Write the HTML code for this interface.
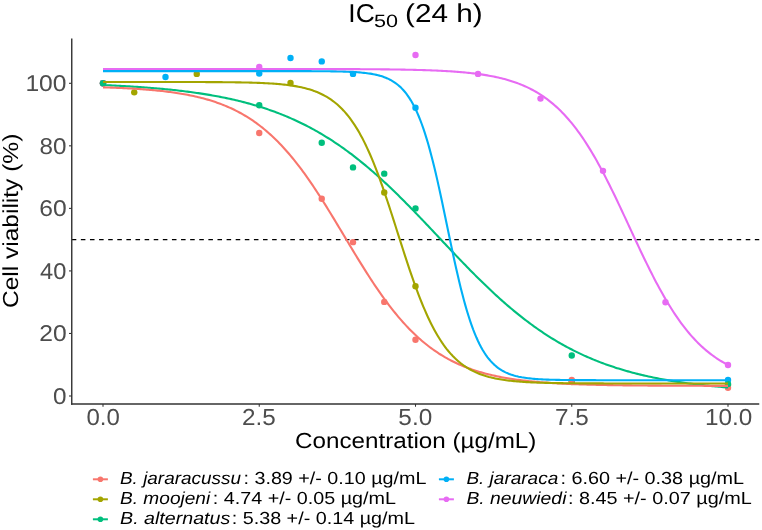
<!DOCTYPE html>
<html><head><meta charset="utf-8"><style>
html,body{margin:0;padding:0;background:#fff;}
body{width:762px;height:530px;overflow:hidden;}
svg{display:block;will-change:transform;}
text{font-family:"Liberation Sans",sans-serif;text-rendering:geometricPrecision;}
</style></head><body>
<svg width="762" height="530" viewBox="0 0 762 530">
<rect width="762" height="530" fill="#fff"/>

<line id="dash" x1="71.75" y1="239.65" x2="759.25" y2="239.65" stroke="#000" stroke-width="1.14" stroke-dasharray="4.55 4.558"/>
<g>
<circle cx="103.00" cy="83.30" r="3.2" fill="#00B0F6"/>
<circle cx="165.50" cy="77.05" r="3.2" fill="#00B0F6"/>
<circle cx="259.25" cy="73.61" r="3.2" fill="#00B0F6"/>
<circle cx="290.50" cy="57.97" r="3.2" fill="#00B0F6"/>
<circle cx="321.75" cy="61.41" r="3.2" fill="#00B0F6"/>
<circle cx="353.00" cy="73.92" r="3.2" fill="#00B0F6"/>
<circle cx="415.50" cy="107.69" r="3.2" fill="#00B0F6"/>
<circle cx="571.75" cy="380.99" r="3.2" fill="#00B0F6"/>
<circle cx="728.00" cy="380.05" r="3.2" fill="#00B0F6"/>
<circle cx="103.00" cy="83.30" r="3.2" fill="#A3A500"/>
<circle cx="134.25" cy="92.37" r="3.2" fill="#A3A500"/>
<circle cx="196.75" cy="73.92" r="3.2" fill="#A3A500"/>
<circle cx="290.50" cy="82.99" r="3.2" fill="#A3A500"/>
<circle cx="384.25" cy="192.43" r="3.2" fill="#A3A500"/>
<circle cx="415.50" cy="286.24" r="3.2" fill="#A3A500"/>
<circle cx="571.75" cy="381.93" r="3.2" fill="#A3A500"/>
<circle cx="728.00" cy="385.06" r="3.2" fill="#A3A500"/>
<circle cx="103.00" cy="83.30" r="3.2" fill="#F8766D"/>
<circle cx="259.25" cy="133.02" r="3.2" fill="#F8766D"/>
<circle cx="321.75" cy="198.69" r="3.2" fill="#F8766D"/>
<circle cx="353.00" cy="242.15" r="3.2" fill="#F8766D"/>
<circle cx="384.25" cy="301.88" r="3.2" fill="#F8766D"/>
<circle cx="415.50" cy="339.71" r="3.2" fill="#F8766D"/>
<circle cx="571.75" cy="380.05" r="3.2" fill="#F8766D"/>
<circle cx="728.00" cy="387.87" r="3.2" fill="#F8766D"/>
<circle cx="103.00" cy="83.30" r="3.2" fill="#E76BF3"/>
<circle cx="259.25" cy="67.04" r="3.2" fill="#E76BF3"/>
<circle cx="415.50" cy="55.00" r="3.2" fill="#E76BF3"/>
<circle cx="478.00" cy="73.92" r="3.2" fill="#E76BF3"/>
<circle cx="540.50" cy="98.62" r="3.2" fill="#E76BF3"/>
<circle cx="603.00" cy="170.86" r="3.2" fill="#E76BF3"/>
<circle cx="665.50" cy="302.19" r="3.2" fill="#E76BF3"/>
<circle cx="728.00" cy="365.04" r="3.2" fill="#E76BF3"/>
<circle cx="103.00" cy="83.30" r="3.2" fill="#00BF7D"/>
<circle cx="259.25" cy="105.19" r="3.2" fill="#00BF7D"/>
<circle cx="321.75" cy="142.71" r="3.2" fill="#00BF7D"/>
<circle cx="353.00" cy="167.42" r="3.2" fill="#00BF7D"/>
<circle cx="384.25" cy="173.67" r="3.2" fill="#00BF7D"/>
<circle cx="415.50" cy="208.38" r="3.2" fill="#00BF7D"/>
<circle cx="571.75" cy="355.51" r="3.2" fill="#00BF7D"/>
<circle cx="728.00" cy="384.12" r="3.2" fill="#00BF7D"/>
</g>
<g fill="none" stroke-width="2.1" stroke-linejoin="round">
<path d="M103.00,85.05 L104.56,85.11 L106.12,85.18 L107.69,85.25 L109.25,85.32 L110.81,85.40 L112.38,85.47 L113.94,85.55 L115.50,85.62 L117.06,85.70 L118.62,85.78 L120.19,85.87 L121.75,85.95 L123.31,86.04 L124.88,86.13 L126.44,86.22 L128.00,86.31 L129.56,86.40 L131.12,86.50 L132.69,86.59 L134.25,86.69 L135.81,86.80 L137.38,86.90 L138.94,87.00 L140.50,87.11 L142.06,87.22 L143.62,87.34 L145.19,87.45 L146.75,87.57 L148.31,87.69 L149.88,87.81 L151.44,87.94 L153.00,88.06 L154.56,88.19 L156.12,88.33 L157.69,88.46 L159.25,88.60 L160.81,88.74 L162.38,88.89 L163.94,89.03 L165.50,89.18 L167.06,89.34 L168.62,89.49 L170.19,89.65 L171.75,89.81 L173.31,89.98 L174.88,90.15 L176.44,90.32 L178.00,90.50 L179.56,90.68 L181.12,90.86 L182.69,91.05 L184.25,91.24 L185.81,91.44 L187.38,91.64 L188.94,91.84 L190.50,92.05 L192.06,92.26 L193.62,92.47 L195.19,92.69 L196.75,92.92 L198.31,93.14 L199.88,93.38 L201.44,93.62 L203.00,93.86 L204.56,94.11 L206.12,94.36 L207.69,94.62 L209.25,94.88 L210.81,95.15 L212.38,95.42 L213.94,95.70 L215.50,95.98 L217.06,96.27 L218.62,96.57 L220.19,96.87 L221.75,97.17 L223.31,97.49 L224.88,97.80 L226.44,98.13 L228.00,98.46 L229.56,98.80 L231.13,99.14 L232.69,99.49 L234.25,99.85 L235.81,100.21 L237.38,100.58 L238.94,100.96 L240.50,101.35 L242.06,101.74 L243.62,102.14 L245.19,102.54 L246.75,102.96 L248.31,103.38 L249.88,103.81 L251.44,104.25 L253.00,104.70 L254.56,105.15 L256.12,105.61 L257.69,106.08 L259.25,106.56 L260.81,107.05 L262.38,107.55 L263.94,108.06 L265.50,108.57 L267.06,109.10 L268.62,109.63 L270.19,110.17 L271.75,110.72 L273.31,111.29 L274.88,111.86 L276.44,112.44 L278.00,113.03 L279.56,113.64 L281.12,114.25 L282.69,114.87 L284.25,115.50 L285.81,116.15 L287.38,116.80 L288.94,117.47 L290.50,118.15 L292.06,118.84 L293.62,119.53 L295.19,120.25 L296.75,120.97 L298.31,121.70 L299.88,122.45 L301.44,123.20 L303.00,123.97 L304.56,124.76 L306.12,125.55 L307.69,126.36 L309.25,127.17 L310.81,128.01 L312.38,128.85 L313.94,129.70 L315.50,130.57 L317.06,131.45 L318.62,132.35 L320.19,133.26 L321.75,134.18 L323.31,135.11 L324.88,136.06 L326.44,137.02 L328.00,137.99 L329.56,138.98 L331.12,139.98 L332.69,140.99 L334.25,142.02 L335.81,143.06 L337.38,144.11 L338.94,145.18 L340.50,146.26 L342.06,147.36 L343.62,148.47 L345.19,149.59 L346.75,150.73 L348.31,151.87 L349.88,153.04 L351.44,154.21 L353.00,155.40 L354.56,156.61 L356.12,157.82 L357.69,159.06 L359.25,160.30 L360.81,161.56 L362.38,162.83 L363.94,164.11 L365.50,165.40 L367.06,166.71 L368.62,168.04 L370.19,169.37 L371.75,170.72 L373.31,172.08 L374.88,173.45 L376.44,174.83 L378.00,176.23 L379.56,177.63 L381.12,179.05 L382.69,180.48 L384.25,181.92 L385.81,183.38 L387.38,184.84 L388.94,186.31 L390.50,187.80 L392.06,189.29 L393.62,190.80 L395.19,192.31 L396.75,193.84 L398.31,195.37 L399.88,196.91 L401.44,198.46 L403.00,200.02 L404.56,201.59 L406.13,203.16 L407.69,204.74 L409.25,206.33 L410.81,207.93 L412.38,209.53 L413.94,211.14 L415.50,212.75 L417.06,214.37 L418.63,216.00 L420.19,217.63 L421.75,219.26 L423.31,220.90 L424.88,222.54 L426.44,224.19 L428.00,225.84 L429.56,227.49 L431.12,229.14 L432.69,230.80 L434.25,232.45 L435.81,234.11 L437.38,235.77 L438.94,237.43 L440.50,239.09 L442.06,240.75 L443.62,242.41 L445.19,244.07 L446.75,245.72 L448.31,247.38 L449.88,249.03 L451.44,250.68 L453.00,252.32 L454.56,253.97 L456.12,255.61 L457.69,257.24 L459.25,258.87 L460.81,260.50 L462.38,262.12 L463.94,263.74 L465.50,265.35 L467.06,266.95 L468.63,268.55 L470.19,270.14 L471.75,271.72 L473.31,273.30 L474.88,274.87 L476.44,276.43 L478.00,277.98 L479.56,279.53 L481.13,281.06 L482.69,282.59 L484.25,284.10 L485.81,285.61 L487.38,287.11 L488.94,288.60 L490.50,290.07 L492.06,291.54 L493.62,292.99 L495.19,294.44 L496.75,295.87 L498.31,297.29 L499.88,298.70 L501.44,300.10 L503.00,301.49 L504.56,302.87 L506.12,304.23 L507.69,305.58 L509.25,306.92 L510.81,308.24 L512.38,309.55 L513.94,310.85 L515.50,312.14 L517.06,313.41 L518.62,314.67 L520.19,315.92 L521.75,317.15 L523.31,318.38 L524.88,319.58 L526.44,320.78 L528.00,321.96 L529.56,323.12 L531.12,324.28 L532.69,325.42 L534.25,326.54 L535.81,327.65 L537.38,328.75 L538.94,329.84 L540.50,330.91 L542.06,331.97 L543.62,333.01 L545.19,334.04 L546.75,335.06 L548.31,336.06 L549.88,337.05 L551.44,338.03 L553.00,338.99 L554.56,339.95 L556.12,340.88 L557.69,341.81 L559.25,342.72 L560.81,343.62 L562.38,344.50 L563.94,345.37 L565.50,346.23 L567.06,347.08 L568.62,347.91 L570.19,348.74 L571.75,349.54 L573.31,350.34 L574.88,351.13 L576.44,351.90 L578.00,352.66 L579.56,353.41 L581.12,354.15 L582.69,354.87 L584.25,355.59 L585.81,356.29 L587.38,356.98 L588.94,357.66 L590.50,358.33 L592.06,358.99 L593.62,359.63 L595.19,360.27 L596.75,360.90 L598.31,361.51 L599.88,362.12 L601.44,362.71 L603.00,363.30 L604.56,363.87 L606.12,364.44 L607.69,364.99 L609.25,365.54 L610.81,366.07 L612.38,366.60 L613.94,367.12 L615.50,367.63 L617.06,368.13 L618.62,368.62 L620.19,369.10 L621.75,369.57 L623.31,370.04 L624.88,370.49 L626.44,370.94 L628.00,371.38 L629.56,371.81 L631.13,372.24 L632.69,372.66 L634.25,373.07 L635.81,373.47 L637.38,373.86 L638.94,374.25 L640.50,374.63 L642.06,375.00 L643.62,375.37 L645.19,375.72 L646.75,376.08 L648.31,376.42 L649.88,376.76 L651.44,377.09 L653.00,377.42 L654.56,377.74 L656.12,378.06 L657.69,378.36 L659.25,378.67 L660.81,378.96 L662.38,379.25 L663.94,379.54 L665.50,379.82 L667.06,380.09 L668.62,380.36 L670.19,380.63 L671.75,380.88 L673.31,381.14 L674.88,381.39 L676.44,381.63 L678.00,381.87 L679.56,382.10 L681.12,382.33 L682.69,382.56 L684.25,382.78 L685.81,383.00 L687.38,383.21 L688.94,383.42 L690.50,383.62 L692.06,383.82 L693.63,384.02 L695.19,384.21 L696.75,384.40 L698.31,384.58 L699.88,384.77 L701.44,384.94 L703.00,385.12 L704.56,385.29 L706.12,385.45 L707.69,385.62 L709.25,385.78 L710.81,385.94 L712.38,386.09 L713.94,386.24 L715.50,386.39 L717.06,386.53 L718.63,386.67 L720.19,386.81 L721.75,386.95 L723.31,387.08 L724.88,387.21 L726.44,387.34 L728.00,387.47" stroke="#00BF7D"/>
<path d="M103.00,87.33 L104.56,87.38 L106.12,87.43 L107.69,87.48 L109.25,87.54 L110.81,87.59 L112.38,87.65 L113.94,87.71 L115.50,87.77 L117.06,87.84 L118.62,87.90 L120.19,87.97 L121.75,88.05 L123.31,88.12 L124.88,88.20 L126.44,88.27 L128.00,88.36 L129.56,88.44 L131.12,88.53 L132.69,88.62 L134.25,88.71 L135.81,88.81 L137.38,88.91 L138.94,89.01 L140.50,89.12 L142.06,89.23 L143.62,89.35 L145.19,89.47 L146.75,89.59 L148.31,89.72 L149.88,89.85 L151.44,89.99 L153.00,90.13 L154.56,90.27 L156.12,90.43 L157.69,90.58 L159.25,90.74 L160.81,90.91 L162.38,91.08 L163.94,91.26 L165.50,91.45 L167.06,91.64 L168.62,91.84 L170.19,92.04 L171.75,92.25 L173.31,92.47 L174.88,92.70 L176.44,92.93 L178.00,93.17 L179.56,93.42 L181.12,93.68 L182.69,93.94 L184.25,94.22 L185.81,94.50 L187.38,94.80 L188.94,95.10 L190.50,95.42 L192.06,95.74 L193.62,96.08 L195.19,96.42 L196.75,96.78 L198.31,97.15 L199.88,97.53 L201.44,97.93 L203.00,98.33 L204.56,98.75 L206.12,99.19 L207.69,99.63 L209.25,100.10 L210.81,100.57 L212.38,101.06 L213.94,101.57 L215.50,102.10 L217.06,102.64 L218.62,103.19 L220.19,103.77 L221.75,104.36 L223.31,104.97 L224.88,105.60 L226.44,106.25 L228.00,106.92 L229.56,107.61 L231.13,108.32 L232.69,109.05 L234.25,109.80 L235.81,110.58 L237.38,111.38 L238.94,112.20 L240.50,113.04 L242.06,113.91 L243.62,114.81 L245.19,115.73 L246.75,116.68 L248.31,117.65 L249.88,118.65 L251.44,119.68 L253.00,120.74 L254.56,121.82 L256.12,122.94 L257.69,124.08 L259.25,125.25 L260.81,126.46 L262.38,127.69 L263.94,128.96 L265.50,130.26 L267.06,131.59 L268.62,132.95 L270.19,134.35 L271.75,135.78 L273.31,137.24 L274.88,138.74 L276.44,140.27 L278.00,141.83 L279.56,143.43 L281.12,145.07 L282.69,146.74 L284.25,148.44 L285.81,150.18 L287.38,151.96 L288.94,153.77 L290.50,155.61 L292.06,157.49 L293.62,159.40 L295.19,161.35 L296.75,163.33 L298.31,165.35 L299.88,167.40 L301.44,169.48 L303.00,171.59 L304.56,173.74 L306.12,175.91 L307.69,178.12 L309.25,180.36 L310.81,182.62 L312.38,184.92 L313.94,187.24 L315.50,189.59 L317.06,191.96 L318.62,194.36 L320.19,196.78 L321.75,199.22 L323.31,201.69 L324.88,204.17 L326.44,206.67 L328.00,209.19 L329.56,211.73 L331.12,214.28 L332.69,216.84 L334.25,219.41 L335.81,222.00 L337.38,224.59 L338.94,227.19 L340.50,229.79 L342.06,232.40 L343.62,235.01 L345.19,237.62 L346.75,240.23 L348.31,242.83 L349.88,245.43 L351.44,248.03 L353.00,250.62 L354.56,253.20 L356.12,255.77 L357.69,258.33 L359.25,260.87 L360.81,263.41 L362.38,265.92 L363.94,268.42 L365.50,270.89 L367.06,273.35 L368.62,275.79 L370.19,278.20 L371.75,280.60 L373.31,282.96 L374.88,285.30 L376.44,287.62 L378.00,289.90 L379.56,292.16 L381.12,294.39 L382.69,296.59 L384.25,298.76 L385.81,300.89 L387.38,303.00 L388.94,305.07 L390.50,307.11 L392.06,309.11 L393.62,311.09 L395.19,313.02 L396.75,314.93 L398.31,316.80 L399.88,318.63 L401.44,320.43 L403.00,322.19 L404.56,323.92 L406.13,325.62 L407.69,327.28 L409.25,328.90 L410.81,330.49 L412.38,332.05 L413.94,333.57 L415.50,335.06 L417.06,336.51 L418.63,337.93 L420.19,339.32 L421.75,340.67 L423.31,341.99 L424.88,343.28 L426.44,344.54 L428.00,345.76 L429.56,346.96 L431.12,348.12 L432.69,349.26 L434.25,350.37 L435.81,351.44 L437.38,352.49 L438.94,353.51 L440.50,354.50 L442.06,355.47 L443.62,356.41 L445.19,357.32 L446.75,358.21 L448.31,359.07 L449.88,359.91 L451.44,360.73 L453.00,361.52 L454.56,362.29 L456.12,363.03 L457.69,363.76 L459.25,364.46 L460.81,365.15 L462.38,365.81 L463.94,366.45 L465.50,367.08 L467.06,367.68 L468.63,368.27 L470.19,368.84 L471.75,369.39 L473.31,369.93 L474.88,370.45 L476.44,370.95 L478.00,371.44 L479.56,371.91 L481.13,372.37 L482.69,372.81 L484.25,373.24 L485.81,373.66 L487.38,374.06 L488.94,374.45 L490.50,374.83 L492.06,375.19 L493.62,375.55 L495.19,375.89 L496.75,376.22 L498.31,376.55 L499.88,376.86 L501.44,377.16 L503.00,377.45 L504.56,377.73 L506.12,378.00 L507.69,378.27 L509.25,378.52 L510.81,378.77 L512.38,379.01 L513.94,379.24 L515.50,379.46 L517.06,379.68 L518.62,379.89 L520.19,380.09 L521.75,380.29 L523.31,380.48 L524.88,380.66 L526.44,380.84 L528.00,381.01 L529.56,381.17 L531.12,381.33 L532.69,381.49 L534.25,381.64 L535.81,381.78 L537.38,381.92 L538.94,382.06 L540.50,382.19 L542.06,382.32 L543.62,382.44 L545.19,382.56 L546.75,382.67 L548.31,382.78 L549.88,382.89 L551.44,382.99 L553.00,383.09 L554.56,383.18 L556.12,383.28 L557.69,383.37 L559.25,383.45 L560.81,383.54 L562.38,383.62 L563.94,383.70 L565.50,383.77 L567.06,383.85 L568.62,383.92 L570.19,383.99 L571.75,384.05 L573.31,384.12 L574.88,384.18 L576.44,384.24 L578.00,384.29 L579.56,384.35 L581.12,384.40 L582.69,384.45 L584.25,384.50 L585.81,384.55 L587.38,384.60 L588.94,384.64 L590.50,384.69 L592.06,384.73 L593.62,384.77 L595.19,384.81 L596.75,384.85 L598.31,384.89 L599.88,384.92 L601.44,384.96 L603.00,384.99 L604.56,385.02 L606.12,385.05 L607.69,385.08 L609.25,385.11 L610.81,385.14 L612.38,385.16 L613.94,385.19 L615.50,385.22 L617.06,385.24 L618.62,385.26 L620.19,385.29 L621.75,385.31 L623.31,385.33 L624.88,385.35 L626.44,385.37 L628.00,385.39 L629.56,385.41 L631.13,385.42 L632.69,385.44 L634.25,385.46 L635.81,385.47 L637.38,385.49 L638.94,385.50 L640.50,385.52 L642.06,385.53 L643.62,385.55 L645.19,385.56 L646.75,385.57 L648.31,385.58 L649.88,385.60 L651.44,385.61 L653.00,385.62 L654.56,385.63 L656.12,385.64 L657.69,385.65 L659.25,385.66 L660.81,385.67 L662.38,385.68 L663.94,385.68 L665.50,385.69 L667.06,385.70 L668.62,385.71 L670.19,385.72 L671.75,385.72 L673.31,385.73 L674.88,385.74 L676.44,385.74 L678.00,385.75 L679.56,385.75 L681.12,385.76 L682.69,385.77 L684.25,385.77 L685.81,385.78 L687.38,385.78 L688.94,385.79 L690.50,385.79 L692.06,385.80 L693.63,385.80 L695.19,385.81 L696.75,385.81 L698.31,385.81 L699.88,385.82 L701.44,385.82 L703.00,385.82 L704.56,385.83 L706.12,385.83 L707.69,385.83 L709.25,385.84 L710.81,385.84 L712.38,385.84 L713.94,385.85 L715.50,385.85 L717.06,385.85 L718.63,385.85 L720.19,385.86 L721.75,385.86 L723.31,385.86 L724.88,385.86 L726.44,385.87 L728.00,385.87" stroke="#F8766D"/>
<path d="M103.00,81.98 L104.56,81.98 L106.12,81.98 L107.69,81.98 L109.25,81.98 L110.81,81.98 L112.38,81.98 L113.94,81.98 L115.50,81.98 L117.06,81.98 L118.62,81.98 L120.19,81.98 L121.75,81.98 L123.31,81.98 L124.88,81.98 L126.44,81.98 L128.00,81.98 L129.56,81.98 L131.12,81.98 L132.69,81.98 L134.25,81.98 L135.81,81.98 L137.38,81.98 L138.94,81.98 L140.50,81.98 L142.06,81.98 L143.62,81.99 L145.19,81.99 L146.75,81.99 L148.31,81.99 L149.88,81.99 L151.44,81.99 L153.00,81.99 L154.56,81.99 L156.12,81.99 L157.69,81.99 L159.25,81.99 L160.81,81.99 L162.38,81.99 L163.94,82.00 L165.50,82.00 L167.06,82.00 L168.62,82.00 L170.19,82.00 L171.75,82.00 L173.31,82.00 L174.88,82.01 L176.44,82.01 L178.00,82.01 L179.56,82.01 L181.12,82.01 L182.69,82.02 L184.25,82.02 L185.81,82.02 L187.38,82.02 L188.94,82.03 L190.50,82.03 L192.06,82.03 L193.62,82.04 L195.19,82.04 L196.75,82.05 L198.31,82.05 L199.88,82.06 L201.44,82.06 L203.00,82.07 L204.56,82.07 L206.12,82.08 L207.69,82.09 L209.25,82.09 L210.81,82.10 L212.38,82.11 L213.94,82.12 L215.50,82.13 L217.06,82.14 L218.62,82.15 L220.19,82.16 L221.75,82.17 L223.31,82.19 L224.88,82.20 L226.44,82.22 L228.00,82.23 L229.56,82.25 L231.13,82.27 L232.69,82.29 L234.25,82.31 L235.81,82.33 L237.38,82.35 L238.94,82.38 L240.50,82.41 L242.06,82.44 L243.62,82.47 L245.19,82.50 L246.75,82.53 L248.31,82.57 L249.88,82.61 L251.44,82.65 L253.00,82.70 L254.56,82.75 L256.12,82.80 L257.69,82.85 L259.25,82.91 L260.81,82.98 L262.38,83.04 L263.94,83.12 L265.50,83.19 L267.06,83.27 L268.62,83.36 L270.19,83.45 L271.75,83.55 L273.31,83.66 L274.88,83.77 L276.44,83.89 L278.00,84.02 L279.56,84.15 L281.12,84.30 L282.69,84.45 L284.25,84.62 L285.81,84.79 L287.38,84.98 L288.94,85.18 L290.50,85.40 L292.06,85.62 L293.62,85.87 L295.19,86.12 L296.75,86.40 L298.31,86.69 L299.88,87.00 L301.44,87.34 L303.00,87.69 L304.56,88.07 L306.12,88.47 L307.69,88.90 L309.25,89.35 L310.81,89.83 L312.38,90.35 L313.94,90.89 L315.50,91.48 L317.06,92.09 L318.62,92.75 L320.19,93.45 L321.75,94.19 L323.31,94.98 L324.88,95.81 L326.44,96.70 L328.00,97.64 L329.56,98.64 L331.12,99.69 L332.69,100.81 L334.25,101.99 L335.81,103.25 L337.38,104.57 L338.94,105.97 L340.50,107.45 L342.06,109.01 L343.62,110.66 L345.19,112.40 L346.75,114.23 L348.31,116.15 L349.88,118.18 L351.44,120.30 L353.00,122.54 L354.56,124.88 L356.12,127.33 L357.69,129.90 L359.25,132.59 L360.81,135.39 L362.38,138.32 L363.94,141.37 L365.50,144.53 L367.06,147.83 L368.62,151.24 L370.19,154.78 L371.75,158.44 L373.31,162.22 L374.88,166.11 L376.44,170.12 L378.00,174.24 L379.56,178.47 L381.12,182.79 L382.69,187.21 L384.25,191.72 L385.81,196.31 L387.38,200.97 L388.94,205.69 L390.50,210.47 L392.06,215.30 L393.62,220.16 L395.19,225.05 L396.75,229.96 L398.31,234.87 L399.88,239.78 L401.44,244.67 L403.00,249.54 L404.56,254.37 L406.13,259.16 L407.69,263.89 L409.25,268.56 L410.81,273.15 L412.38,277.67 L413.94,282.10 L415.50,286.44 L417.06,290.68 L418.63,294.81 L420.19,298.84 L421.75,302.75 L423.31,306.54 L424.88,310.21 L426.44,313.77 L428.00,317.20 L429.56,320.51 L431.12,323.69 L432.69,326.76 L434.25,329.70 L435.81,332.52 L437.38,335.22 L438.94,337.80 L440.50,340.27 L442.06,342.63 L443.62,344.87 L445.19,347.01 L446.75,349.05 L448.31,350.99 L449.88,352.83 L451.44,354.58 L453.00,356.24 L454.56,357.81 L456.12,359.30 L457.69,360.71 L459.25,362.05 L460.81,363.31 L462.38,364.50 L463.94,365.63 L465.50,366.69 L467.06,367.69 L468.63,368.64 L470.19,369.53 L471.75,370.37 L473.31,371.17 L474.88,371.91 L476.44,372.62 L478.00,373.28 L479.56,373.90 L481.13,374.49 L482.69,375.04 L484.25,375.56 L485.81,376.05 L487.38,376.50 L488.94,376.94 L490.50,377.34 L492.06,377.72 L493.62,378.08 L495.19,378.41 L496.75,378.73 L498.31,379.02 L499.88,379.30 L501.44,379.56 L503.00,379.80 L504.56,380.03 L506.12,380.25 L507.69,380.45 L509.25,380.64 L510.81,380.82 L512.38,380.98 L513.94,381.14 L515.50,381.29 L517.06,381.42 L518.62,381.55 L520.19,381.67 L521.75,381.79 L523.31,381.89 L524.88,381.99 L526.44,382.09 L528.00,382.17 L529.56,382.26 L531.12,382.33 L532.69,382.40 L534.25,382.47 L535.81,382.54 L537.38,382.59 L538.94,382.65 L540.50,382.70 L542.06,382.75 L543.62,382.80 L545.19,382.84 L546.75,382.88 L548.31,382.92 L549.88,382.95 L551.44,382.99 L553.00,383.02 L554.56,383.05 L556.12,383.07 L557.69,383.10 L559.25,383.12 L560.81,383.15 L562.38,383.17 L563.94,383.19 L565.50,383.20 L567.06,383.22 L568.62,383.24 L570.19,383.25 L571.75,383.27 L573.31,383.28 L574.88,383.29 L576.44,383.31 L578.00,383.32 L579.56,383.33 L581.12,383.34 L582.69,383.35 L584.25,383.35 L585.81,383.36 L587.38,383.37 L588.94,383.38 L590.50,383.38 L592.06,383.39 L593.62,383.39 L595.19,383.40 L596.75,383.40 L598.31,383.41 L599.88,383.41 L601.44,383.42 L603.00,383.42 L604.56,383.43 L606.12,383.43 L607.69,383.43 L609.25,383.43 L610.81,383.44 L612.38,383.44 L613.94,383.44 L615.50,383.45 L617.06,383.45 L618.62,383.45 L620.19,383.45 L621.75,383.45 L623.31,383.45 L624.88,383.46 L626.44,383.46 L628.00,383.46 L629.56,383.46 L631.13,383.46 L632.69,383.46 L634.25,383.46 L635.81,383.46 L637.38,383.47 L638.94,383.47 L640.50,383.47 L642.06,383.47 L643.62,383.47 L645.19,383.47 L646.75,383.47 L648.31,383.47 L649.88,383.47 L651.44,383.47 L653.00,383.47 L654.56,383.47 L656.12,383.47 L657.69,383.47 L659.25,383.47 L660.81,383.47 L662.38,383.47 L663.94,383.47 L665.50,383.47 L667.06,383.48 L668.62,383.48 L670.19,383.48 L671.75,383.48 L673.31,383.48 L674.88,383.48 L676.44,383.48 L678.00,383.48 L679.56,383.48 L681.12,383.48 L682.69,383.48 L684.25,383.48 L685.81,383.48 L687.38,383.48 L688.94,383.48 L690.50,383.48 L692.06,383.48 L693.63,383.48 L695.19,383.48 L696.75,383.48 L698.31,383.48 L699.88,383.48 L701.44,383.48 L703.00,383.48 L704.56,383.48 L706.12,383.48 L707.69,383.48 L709.25,383.48 L710.81,383.48 L712.38,383.48 L713.94,383.48 L715.50,383.48 L717.06,383.48 L718.63,383.48 L720.19,383.48 L721.75,383.48 L723.31,383.48 L724.88,383.48 L726.44,383.48 L728.00,383.48" stroke="#A3A500"/>
<path d="M103.00,71.11 L104.56,71.11 L106.12,71.11 L107.69,71.11 L109.25,71.11 L110.81,71.11 L112.38,71.11 L113.94,71.11 L115.50,71.11 L117.06,71.11 L118.62,71.11 L120.19,71.11 L121.75,71.11 L123.31,71.11 L124.88,71.11 L126.44,71.11 L128.00,71.11 L129.56,71.11 L131.12,71.11 L132.69,71.11 L134.25,71.11 L135.81,71.11 L137.38,71.11 L138.94,71.11 L140.50,71.11 L142.06,71.11 L143.62,71.11 L145.19,71.11 L146.75,71.11 L148.31,71.11 L149.88,71.11 L151.44,71.11 L153.00,71.11 L154.56,71.11 L156.12,71.11 L157.69,71.11 L159.25,71.11 L160.81,71.11 L162.38,71.11 L163.94,71.11 L165.50,71.11 L167.06,71.11 L168.62,71.11 L170.19,71.11 L171.75,71.11 L173.31,71.11 L174.88,71.11 L176.44,71.11 L178.00,71.11 L179.56,71.11 L181.12,71.11 L182.69,71.11 L184.25,71.11 L185.81,71.11 L187.38,71.11 L188.94,71.11 L190.50,71.11 L192.06,71.11 L193.62,71.11 L195.19,71.11 L196.75,71.11 L198.31,71.11 L199.88,71.11 L201.44,71.11 L203.00,71.11 L204.56,71.11 L206.12,71.11 L207.69,71.11 L209.25,71.11 L210.81,71.11 L212.38,71.11 L213.94,71.11 L215.50,71.11 L217.06,71.11 L218.62,71.11 L220.19,71.11 L221.75,71.11 L223.31,71.11 L224.88,71.11 L226.44,71.11 L228.00,71.11 L229.56,71.11 L231.13,71.11 L232.69,71.11 L234.25,71.11 L235.81,71.11 L237.38,71.11 L238.94,71.11 L240.50,71.11 L242.06,71.11 L243.62,71.11 L245.19,71.11 L246.75,71.11 L248.31,71.11 L249.88,71.11 L251.44,71.11 L253.00,71.11 L254.56,71.11 L256.12,71.11 L257.69,71.11 L259.25,71.11 L260.81,71.11 L262.38,71.11 L263.94,71.11 L265.50,71.11 L267.06,71.12 L268.62,71.12 L270.19,71.12 L271.75,71.12 L273.31,71.12 L274.88,71.12 L276.44,71.12 L278.00,71.12 L279.56,71.12 L281.12,71.12 L282.69,71.12 L284.25,71.12 L285.81,71.12 L287.38,71.13 L288.94,71.13 L290.50,71.13 L292.06,71.13 L293.62,71.13 L295.19,71.13 L296.75,71.14 L298.31,71.14 L299.88,71.14 L301.44,71.15 L303.00,71.15 L304.56,71.15 L306.12,71.16 L307.69,71.16 L309.25,71.17 L310.81,71.17 L312.38,71.18 L313.94,71.19 L315.50,71.20 L317.06,71.20 L318.62,71.21 L320.19,71.22 L321.75,71.24 L323.31,71.25 L324.88,71.26 L326.44,71.28 L328.00,71.30 L329.56,71.31 L331.12,71.34 L332.69,71.36 L334.25,71.38 L335.81,71.41 L337.38,71.44 L338.94,71.48 L340.50,71.51 L342.06,71.55 L343.62,71.60 L345.19,71.65 L346.75,71.70 L348.31,71.76 L349.88,71.83 L351.44,71.91 L353.00,71.99 L354.56,72.08 L356.12,72.17 L357.69,72.28 L359.25,72.40 L360.81,72.53 L362.38,72.68 L363.94,72.84 L365.50,73.01 L367.06,73.21 L368.62,73.42 L370.19,73.65 L371.75,73.91 L373.31,74.19 L374.88,74.51 L376.44,74.85 L378.00,75.23 L379.56,75.64 L381.12,76.10 L382.69,76.60 L384.25,77.15 L385.81,77.75 L387.38,78.42 L388.94,79.15 L390.50,79.94 L392.06,80.82 L393.62,81.78 L395.19,82.83 L396.75,83.98 L398.31,85.23 L399.88,86.61 L401.44,88.11 L403.00,89.74 L404.56,91.52 L406.13,93.46 L407.69,95.56 L409.25,97.85 L410.81,100.33 L412.38,103.01 L413.94,105.90 L415.50,109.03 L417.06,112.39 L418.63,116.00 L420.19,119.86 L421.75,124.00 L423.31,128.41 L424.88,133.10 L426.44,138.06 L428.00,143.31 L429.56,148.84 L431.12,154.65 L432.69,160.72 L434.25,167.04 L435.81,173.60 L437.38,180.38 L438.94,187.36 L440.50,194.50 L442.06,201.79 L443.62,209.19 L445.19,216.66 L446.75,224.18 L448.31,231.71 L449.88,239.20 L451.44,246.63 L453.00,253.97 L454.56,261.17 L456.12,268.22 L457.69,275.08 L459.25,281.73 L460.81,288.15 L462.38,294.32 L463.94,300.23 L465.50,305.86 L467.06,311.22 L468.63,316.30 L470.19,321.10 L471.75,325.62 L473.31,329.86 L474.88,333.83 L476.44,337.54 L478.00,341.00 L479.56,344.21 L481.13,347.20 L482.69,349.96 L484.25,352.52 L485.81,354.88 L487.38,357.05 L488.94,359.05 L490.50,360.89 L492.06,362.58 L493.62,364.13 L495.19,365.56 L496.75,366.86 L498.31,368.05 L499.88,369.13 L501.44,370.13 L503.00,371.04 L504.56,371.86 L506.12,372.62 L507.69,373.31 L509.25,373.93 L510.81,374.51 L512.38,375.02 L513.94,375.50 L515.50,375.93 L517.06,376.32 L518.62,376.68 L520.19,377.00 L521.75,377.30 L523.31,377.56 L524.88,377.81 L526.44,378.03 L528.00,378.23 L529.56,378.41 L531.12,378.58 L532.69,378.73 L534.25,378.86 L535.81,378.99 L537.38,379.10 L538.94,379.20 L540.50,379.29 L542.06,379.38 L543.62,379.45 L545.19,379.52 L546.75,379.59 L548.31,379.64 L549.88,379.70 L551.44,379.74 L553.00,379.78 L554.56,379.82 L556.12,379.86 L557.69,379.89 L559.25,379.92 L560.81,379.95 L562.38,379.97 L563.94,379.99 L565.50,380.01 L567.06,380.03 L568.62,380.04 L570.19,380.06 L571.75,380.07 L573.31,380.08 L574.88,380.10 L576.44,380.11 L578.00,380.11 L579.56,380.12 L581.12,380.13 L582.69,380.14 L584.25,380.14 L585.81,380.15 L587.38,380.15 L588.94,380.16 L590.50,380.16 L592.06,380.17 L593.62,380.17 L595.19,380.17 L596.75,380.18 L598.31,380.18 L599.88,380.18 L601.44,380.18 L603.00,380.18 L604.56,380.19 L606.12,380.19 L607.69,380.19 L609.25,380.19 L610.81,380.19 L612.38,380.19 L613.94,380.19 L615.50,380.19 L617.06,380.19 L618.62,380.20 L620.19,380.20 L621.75,380.20 L623.31,380.20 L624.88,380.20 L626.44,380.20 L628.00,380.20 L629.56,380.20 L631.13,380.20 L632.69,380.20 L634.25,380.20 L635.81,380.20 L637.38,380.20 L638.94,380.20 L640.50,380.20 L642.06,380.20 L643.62,380.20 L645.19,380.20 L646.75,380.20 L648.31,380.20 L649.88,380.20 L651.44,380.20 L653.00,380.20 L654.56,380.20 L656.12,380.20 L657.69,380.20 L659.25,380.20 L660.81,380.20 L662.38,380.20 L663.94,380.20 L665.50,380.20 L667.06,380.20 L668.62,380.20 L670.19,380.20 L671.75,380.20 L673.31,380.20 L674.88,380.20 L676.44,380.20 L678.00,380.20 L679.56,380.20 L681.12,380.20 L682.69,380.20 L684.25,380.20 L685.81,380.20 L687.38,380.20 L688.94,380.20 L690.50,380.20 L692.06,380.20 L693.63,380.20 L695.19,380.20 L696.75,380.20 L698.31,380.20 L699.88,380.20 L701.44,380.20 L703.00,380.20 L704.56,380.20 L706.12,380.20 L707.69,380.20 L709.25,380.20 L710.81,380.20 L712.38,380.20 L713.94,380.20 L715.50,380.20 L717.06,380.20 L718.63,380.20 L720.19,380.20 L721.75,380.20 L723.31,380.20 L724.88,380.20 L726.44,380.20 L728.00,380.20" stroke="#00B0F6"/>
<path d="M103.00,68.98 L104.56,68.98 L106.12,68.98 L107.69,68.98 L109.25,68.98 L110.81,68.98 L112.38,68.98 L113.94,68.98 L115.50,68.98 L117.06,68.98 L118.62,68.98 L120.19,68.98 L121.75,68.98 L123.31,68.98 L124.88,68.98 L126.44,68.98 L128.00,68.98 L129.56,68.98 L131.12,68.98 L132.69,68.98 L134.25,68.98 L135.81,68.98 L137.38,68.98 L138.94,68.98 L140.50,68.98 L142.06,68.98 L143.62,68.98 L145.19,68.98 L146.75,68.98 L148.31,68.98 L149.88,68.98 L151.44,68.98 L153.00,68.98 L154.56,68.98 L156.12,68.98 L157.69,68.98 L159.25,68.98 L160.81,68.98 L162.38,68.98 L163.94,68.98 L165.50,68.98 L167.06,68.98 L168.62,68.98 L170.19,68.98 L171.75,68.98 L173.31,68.98 L174.88,68.98 L176.44,68.98 L178.00,68.98 L179.56,68.98 L181.12,68.98 L182.69,68.98 L184.25,68.98 L185.81,68.98 L187.38,68.98 L188.94,68.98 L190.50,68.98 L192.06,68.98 L193.62,68.98 L195.19,68.98 L196.75,68.98 L198.31,68.98 L199.88,68.98 L201.44,68.98 L203.00,68.98 L204.56,68.98 L206.12,68.98 L207.69,68.98 L209.25,68.98 L210.81,68.98 L212.38,68.98 L213.94,68.98 L215.50,68.98 L217.06,68.98 L218.62,68.98 L220.19,68.98 L221.75,68.98 L223.31,68.98 L224.88,68.98 L226.44,68.98 L228.00,68.98 L229.56,68.98 L231.13,68.98 L232.69,68.98 L234.25,68.98 L235.81,68.98 L237.38,68.98 L238.94,68.98 L240.50,68.98 L242.06,68.98 L243.62,68.98 L245.19,68.98 L246.75,68.98 L248.31,68.98 L249.88,68.98 L251.44,68.99 L253.00,68.99 L254.56,68.99 L256.12,68.99 L257.69,68.99 L259.25,68.99 L260.81,68.99 L262.38,68.99 L263.94,68.99 L265.50,68.99 L267.06,68.99 L268.62,68.99 L270.19,68.99 L271.75,68.99 L273.31,68.99 L274.88,68.99 L276.44,69.00 L278.00,69.00 L279.56,69.00 L281.12,69.00 L282.69,69.00 L284.25,69.00 L285.81,69.00 L287.38,69.00 L288.94,69.00 L290.50,69.01 L292.06,69.01 L293.62,69.01 L295.19,69.01 L296.75,69.01 L298.31,69.01 L299.88,69.01 L301.44,69.02 L303.00,69.02 L304.56,69.02 L306.12,69.02 L307.69,69.02 L309.25,69.03 L310.81,69.03 L312.38,69.03 L313.94,69.03 L315.50,69.03 L317.06,69.04 L318.62,69.04 L320.19,69.04 L321.75,69.05 L323.31,69.05 L324.88,69.05 L326.44,69.06 L328.00,69.06 L329.56,69.06 L331.12,69.07 L332.69,69.07 L334.25,69.08 L335.81,69.08 L337.38,69.08 L338.94,69.09 L340.50,69.09 L342.06,69.10 L343.62,69.10 L345.19,69.11 L346.75,69.12 L348.31,69.12 L349.88,69.13 L351.44,69.13 L353.00,69.14 L354.56,69.15 L356.12,69.16 L357.69,69.16 L359.25,69.17 L360.81,69.18 L362.38,69.19 L363.94,69.20 L365.50,69.21 L367.06,69.22 L368.62,69.23 L370.19,69.24 L371.75,69.25 L373.31,69.27 L374.88,69.28 L376.44,69.29 L378.00,69.31 L379.56,69.32 L381.12,69.33 L382.69,69.35 L384.25,69.37 L385.81,69.38 L387.38,69.40 L388.94,69.42 L390.50,69.44 L392.06,69.46 L393.62,69.48 L395.19,69.50 L396.75,69.53 L398.31,69.55 L399.88,69.57 L401.44,69.60 L403.00,69.63 L404.56,69.66 L406.13,69.69 L407.69,69.72 L409.25,69.75 L410.81,69.78 L412.38,69.82 L413.94,69.85 L415.50,69.89 L417.06,69.93 L418.63,69.97 L420.19,70.02 L421.75,70.06 L423.31,70.11 L424.88,70.16 L426.44,70.21 L428.00,70.26 L429.56,70.32 L431.12,70.38 L432.69,70.44 L434.25,70.50 L435.81,70.57 L437.38,70.64 L438.94,70.71 L440.50,70.78 L442.06,70.86 L443.62,70.94 L445.19,71.03 L446.75,71.12 L448.31,71.21 L449.88,71.31 L451.44,71.41 L453.00,71.51 L454.56,71.62 L456.12,71.74 L457.69,71.86 L459.25,71.98 L460.81,72.11 L462.38,72.25 L463.94,72.39 L465.50,72.54 L467.06,72.69 L468.63,72.85 L470.19,73.02 L471.75,73.19 L473.31,73.37 L474.88,73.56 L476.44,73.76 L478.00,73.96 L479.56,74.17 L481.13,74.40 L482.69,74.63 L484.25,74.87 L485.81,75.12 L487.38,75.39 L488.94,75.66 L490.50,75.94 L492.06,76.24 L493.62,76.55 L495.19,76.87 L496.75,77.21 L498.31,77.55 L499.88,77.92 L501.44,78.30 L503.00,78.69 L504.56,79.10 L506.12,79.53 L507.69,79.97 L509.25,80.43 L510.81,80.91 L512.38,81.41 L513.94,81.93 L515.50,82.47 L517.06,83.03 L518.62,83.62 L520.19,84.22 L521.75,84.86 L523.31,85.51 L524.88,86.19 L526.44,86.90 L528.00,87.63 L529.56,88.40 L531.12,89.19 L532.69,90.01 L534.25,90.87 L535.81,91.75 L537.38,92.67 L538.94,93.62 L540.50,94.61 L542.06,95.63 L543.62,96.69 L545.19,97.79 L546.75,98.92 L548.31,100.10 L549.88,101.32 L551.44,102.58 L553.00,103.88 L554.56,105.22 L556.12,106.62 L557.69,108.05 L559.25,109.54 L560.81,111.07 L562.38,112.65 L563.94,114.28 L565.50,115.96 L567.06,117.69 L568.62,119.48 L570.19,121.31 L571.75,123.20 L573.31,125.14 L574.88,127.14 L576.44,129.19 L578.00,131.30 L579.56,133.46 L581.12,135.68 L582.69,137.95 L584.25,140.27 L585.81,142.66 L587.38,145.09 L588.94,147.59 L590.50,150.13 L592.06,152.73 L593.62,155.38 L595.19,158.09 L596.75,160.84 L598.31,163.64 L599.88,166.49 L601.44,169.39 L603.00,172.34 L604.56,175.33 L606.12,178.36 L607.69,181.43 L609.25,184.53 L610.81,187.68 L612.38,190.86 L613.94,194.06 L615.50,197.30 L617.06,200.56 L618.62,203.85 L620.19,207.16 L621.75,210.48 L623.31,213.82 L624.88,217.18 L626.44,220.54 L628.00,223.90 L629.56,227.27 L631.13,230.64 L632.69,234.01 L634.25,237.37 L635.81,240.72 L637.38,244.05 L638.94,247.38 L640.50,250.68 L642.06,253.96 L643.62,257.22 L645.19,260.46 L646.75,263.66 L648.31,266.83 L649.88,269.97 L651.44,273.07 L653.00,276.14 L654.56,279.16 L656.12,282.14 L657.69,285.08 L659.25,287.97 L660.81,290.81 L662.38,293.61 L663.94,296.36 L665.50,299.05 L667.06,301.69 L668.62,304.28 L670.19,306.82 L671.75,309.30 L673.31,311.73 L674.88,314.11 L676.44,316.42 L678.00,318.69 L679.56,320.90 L681.12,323.05 L682.69,325.15 L684.25,327.19 L685.81,329.18 L687.38,331.11 L688.94,332.99 L690.50,334.82 L692.06,336.59 L693.63,338.32 L695.19,339.99 L696.75,341.61 L698.31,343.18 L699.88,344.71 L701.44,346.18 L703.00,347.61 L704.56,349.00 L706.12,350.34 L707.69,351.63 L709.25,352.89 L710.81,354.10 L712.38,355.27 L713.94,356.40 L715.50,357.49 L717.06,358.54 L718.63,359.56 L720.19,360.54 L721.75,361.49 L723.31,362.40 L724.88,363.28 L726.44,364.13 L728.00,364.94" stroke="#E76BF3"/>
</g>
<line x1="71.75" y1="38.6" x2="71.75" y2="404.7" stroke="#333333" stroke-width="1.42"/>
<line x1="71.05" y1="404.0" x2="759.25" y2="404.0" stroke="#333333" stroke-width="1.42"/>
<line x1="69.0" y1="396.00" x2="71.75" y2="396.00" stroke="#333333" stroke-width="1.07"/>
<line x1="69.0" y1="333.46" x2="71.75" y2="333.46" stroke="#333333" stroke-width="1.07"/>
<line x1="69.0" y1="270.92" x2="71.75" y2="270.92" stroke="#333333" stroke-width="1.07"/>
<line x1="69.0" y1="208.38" x2="71.75" y2="208.38" stroke="#333333" stroke-width="1.07"/>
<line x1="69.0" y1="145.84" x2="71.75" y2="145.84" stroke="#333333" stroke-width="1.07"/>
<line x1="69.0" y1="83.30" x2="71.75" y2="83.30" stroke="#333333" stroke-width="1.07"/>
<line x1="103.00" y1="404.0" x2="103.00" y2="406.75" stroke="#333333" stroke-width="1.07"/>
<line x1="259.25" y1="404.0" x2="259.25" y2="406.75" stroke="#333333" stroke-width="1.07"/>
<line x1="415.50" y1="404.0" x2="415.50" y2="406.75" stroke="#333333" stroke-width="1.07"/>
<line x1="571.75" y1="404.0" x2="571.75" y2="406.75" stroke="#333333" stroke-width="1.07"/>
<line x1="728.00" y1="404.0" x2="728.00" y2="406.75" stroke="#333333" stroke-width="1.07"/>
<line x1="92.9" y1="479.3" x2="107.9" y2="479.3" stroke="#F8766D" stroke-width="2.0"/><circle cx="100.4" cy="479.3" r="2.8" fill="#F8766D"/>
<line x1="92.9" y1="499.3" x2="107.9" y2="499.3" stroke="#A3A500" stroke-width="2.0"/><circle cx="100.4" cy="499.3" r="2.8" fill="#A3A500"/>
<line x1="92.9" y1="519.3" x2="107.9" y2="519.3" stroke="#00BF7D" stroke-width="2.0"/><circle cx="100.4" cy="519.3" r="2.8" fill="#00BF7D"/>
<line x1="438.9" y1="479.3" x2="453.9" y2="479.3" stroke="#00B0F6" stroke-width="2.0"/><circle cx="446.4" cy="479.3" r="2.8" fill="#00B0F6"/>
<line x1="438.9" y1="499.3" x2="453.9" y2="499.3" stroke="#E76BF3" stroke-width="2.0"/><circle cx="446.4" cy="499.3" r="2.8" fill="#E76BF3"/>
<text id="title_IC" x="348.36" y="21.90" font-size="25.8" fill="#000" textLength="26.48" lengthAdjust="spacingAndGlyphs">IC</text>
<text id="title_50" x="374.11" y="26.79" font-size="17.8" fill="#000" textLength="24.00" lengthAdjust="spacingAndGlyphs">50</text>
<text id="title_rest" x="405.00" y="21.90" font-size="25.8" fill="#000" textLength="77.72" lengthAdjust="spacingAndGlyphs">(24 h)</text>
<text id="yt_0" x="53.12" y="403.60" font-size="22.85" fill="#4D4D4D" textLength="13.53" lengthAdjust="spacingAndGlyphs">0</text>
<text id="yt_20" x="39.35" y="341.07" font-size="22.85" fill="#4D4D4D" textLength="27.38" lengthAdjust="spacingAndGlyphs">20</text>
<text id="yt_40" x="40.09" y="279.01" font-size="22.85" fill="#4D4D4D" textLength="26.27" lengthAdjust="spacingAndGlyphs">40</text>
<text id="yt_60" x="39.32" y="216.14" font-size="22.85" fill="#4D4D4D" textLength="27.42" lengthAdjust="spacingAndGlyphs">60</text>
<text id="yt_80" x="39.48" y="153.69" font-size="22.85" fill="#4D4D4D" textLength="26.94" lengthAdjust="spacingAndGlyphs">80</text>
<text id="yt_100" x="25.41" y="90.74" font-size="22.85" fill="#4D4D4D" textLength="41.07" lengthAdjust="spacingAndGlyphs">100</text>
<text id="xt_0.0" x="86.40" y="424.90" font-size="23.2" fill="#4D4D4D" textLength="33.35" lengthAdjust="spacingAndGlyphs">0.0</text>
<text id="xt_2.5" x="242.12" y="424.90" font-size="23.2" fill="#4D4D4D" textLength="33.76" lengthAdjust="spacingAndGlyphs">2.5</text>
<text id="xt_5.0" x="398.38" y="424.90" font-size="23.2" fill="#4D4D4D" textLength="33.85" lengthAdjust="spacingAndGlyphs">5.0</text>
<text id="xt_7.5" x="554.91" y="424.90" font-size="23.2" fill="#4D4D4D" textLength="33.73" lengthAdjust="spacingAndGlyphs">7.5</text>
<text id="xt_10.0" x="704.91" y="424.90" font-size="23.2" fill="#4D4D4D" textLength="47.32" lengthAdjust="spacingAndGlyphs">10.0</text>
<text id="xtitle" x="294.97" y="448.20" font-size="21.7" fill="#000" textLength="241.39" lengthAdjust="spacingAndGlyphs">Concentration (µg/mL)</text>
<text id="ytitle" x="18.50" y="308.01" font-size="21.7" fill="#000" textLength="174.31" lengthAdjust="spacingAndGlyphs" transform="rotate(-90 18.50 308.01)">Cell viability (%)</text>
<text id="leg1i" x="120.01" y="484.40" font-size="17.4" fill="#000" textLength="120.97" lengthAdjust="spacingAndGlyphs"><tspan font-style="italic">B. jararacussu</tspan></text>
<text id="leg1r" x="243.53" y="484.40" font-size="17.4" fill="#000" textLength="182.85" lengthAdjust="spacingAndGlyphs">: 3.89 +/- 0.10 µg/mL</text>
<text id="leg2i" x="120.05" y="504.30" font-size="17.4" fill="#000" textLength="90.15" lengthAdjust="spacingAndGlyphs"><tspan font-style="italic">B. moojeni</tspan></text>
<text id="leg2r" x="212.89" y="504.30" font-size="17.4" fill="#000" textLength="183.06" lengthAdjust="spacingAndGlyphs">: 4.74 +/- 0.05 µg/mL</text>
<text id="leg3i" x="120.06" y="524.40" font-size="17.4" fill="#000" textLength="110.26" lengthAdjust="spacingAndGlyphs"><tspan font-style="italic">B. alternatus</tspan></text>
<text id="leg3r" x="231.67" y="524.40" font-size="17.4" fill="#000" textLength="183.42" lengthAdjust="spacingAndGlyphs">: 5.38 +/- 0.14 µg/mL</text>
<text id="leg4i" x="466.41" y="484.40" font-size="17.4" fill="#000" textLength="91.83" lengthAdjust="spacingAndGlyphs"><tspan font-style="italic">B. jararaca</tspan></text>
<text id="leg4r" x="560.43" y="484.40" font-size="17.4" fill="#000" textLength="183.64" lengthAdjust="spacingAndGlyphs">: 6.60 +/- 0.38 µg/mL</text>
<text id="leg5i" x="466.42" y="504.30" font-size="17.4" fill="#000" textLength="100.04" lengthAdjust="spacingAndGlyphs"><tspan font-style="italic">B. neuwiedi</tspan></text>
<text id="leg5r" x="567.91" y="504.30" font-size="17.4" fill="#000" textLength="183.93" lengthAdjust="spacingAndGlyphs">: 8.45 +/- 0.07 µg/mL</text>
</svg>
</body></html>
